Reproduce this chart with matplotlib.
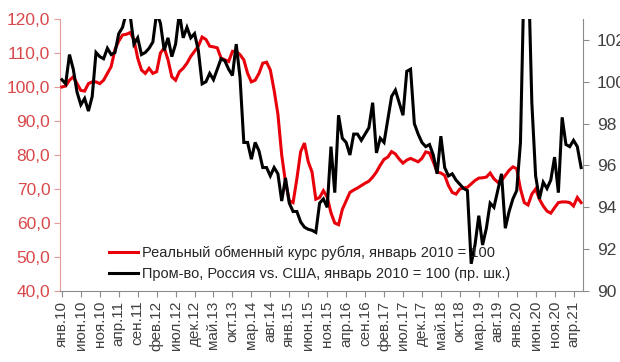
import matplotlib
matplotlib.use("Agg")
import matplotlib.pyplot as plt
import numpy as np

plt.rcParams['font.family'] = ['Liberation Sans', 'DejaVu Sans']

ruble_reer = [
    100, 100.3, 102, 103, 101, 99, 98.8, 101, 101.5, 101.5, 101, 102,
    104, 106, 111, 113.5, 115.3, 115.5, 116, 114, 108.5, 105, 104, 105.5,
    104, 104.5, 110, 111.5, 108, 103, 102, 104.5, 105.5, 107, 109, 110.5,
    112, 114.7, 114, 112, 111.8, 111.5, 108.5, 108, 107.5, 110.5, 110.5, 109.5,
    108, 104, 101.5, 102, 104, 107, 107.3, 105, 99, 92, 80, 72,
    66.5, 66, 73, 81, 83.5, 78, 75, 67, 67.5, 69.5, 67.6, 63,
    60, 59.5, 64, 66.5, 69, 69.7, 70.3, 71, 71.7, 72.3, 73.5, 75,
    77, 78.7, 79.4, 81, 80.3, 78.8, 77.6, 78.5, 79, 78.5, 78, 79,
    80.9, 80.6, 78, 75, 74.7, 74, 71, 69, 68.5, 70, 70.3, 70.5,
    71.5, 72.5, 73.2, 73.3, 73.5, 74.7, 73, 72, 72.5, 74, 75.5, 76.5,
    76, 70, 66, 65.3, 68.5, 70, 67, 65, 63.5, 62.9, 64.5, 66,
    66.2, 66.2, 66, 65, 67.5, 66,
]

industry_ru_us = [
    100.1, 99.9, 101.3, 100.6, 99.5, 98.9, 99.2, 98.6, 99.3, 101.4, 101.2, 101.1,
    101.6, 101.3, 101.4, 102.3, 102.6, 103.3, 103.2, 101.8, 102.1, 101.3, 101.4, 101.6,
    101.9, 103.3, 102.8, 101.5, 102.1, 101.2, 101.8, 103.3, 102.1, 102.6, 102.1, 102.3,
    101.5, 99.9, 100.0, 100.4, 100.1, 100.6, 101.1, 101.0, 100.6, 100.3, 101.8, 100.2,
    97.1, 97.1, 96.3, 97.1, 96.7, 95.9, 95.9, 95.5, 95.9, 95.6, 94.3, 95.4,
    94.2, 93.8, 93.8, 93.3, 93.05, 92.95, 92.9, 92.8, 94.2, 94.4, 94.0, 96.9,
    94.7, 98.4, 97.3, 97.1, 96.5, 97.5, 97.5, 97.2, 97.5, 97.8, 99.0, 96.6,
    97.3, 97.1, 98.2, 99.3, 99.6, 99.0, 98.4, 100.5, 100.6, 98.0, 97.5, 97.1,
    96.9, 97.0, 96.5, 95.6, 97.4, 95.9, 95.5, 95.6, 95.3, 95.1, 94.9, 94.8,
    91.3, 92.2, 93.6, 92.2, 93.0, 94.2, 94.0, 94.8, 95.6, 93.0, 93.8, 94.4,
    94.8, 97.1, 105.5, 106.0, 99.0, 95.5, 94.4, 95.2, 94.9, 95.3, 96.4, 94.7,
    98.3, 97.0, 96.9, 97.2, 96.9, 95.9,
]

month_abbr = ['янв', 'фев', 'мар', 'апр', 'май', 'июн',
              'июл', 'авг', 'сен', 'окт', 'ноя', 'дек']
start_year = 2010
tick_step = 5

label_reer = 'Реальный обменный курс рубля, январь 2010 = 100'
label_ind = 'Пром-во, Россия vs. США, январь 2010 = 100 (пр. шк.)'

left_ticks = [40, 50, 60, 70, 80, 90, 100, 110, 120]
right_ticks = [90, 92, 94, 96, 98, 100, 102]

n = len(ruble_reer)
x = np.arange(n)
labels = [f"{month_abbr[i % 12]}.{(start_year + i // 12) % 100:02d}" for i in range(n)]

fig = plt.figure(figsize=(6.2, 3.62), dpi=100)
ax = fig.add_axes([60/620, 71/362, 523/620, 272/362])
ax2 = ax.twinx()

red_c = '#e8000b'
ln1, = ax.plot(x, ruble_reer, color=red_c, lw=2.2, solid_joinstyle='miter', zorder=3)
ln2, = ax2.plot(x, industry_ru_us, color='black', lw=2.2, solid_joinstyle='miter', zorder=3)

ax.set_xlim(-0.5, n - 0.5)
ax.set_ylim(40, 120)
ax2.set_ylim(90, 103)

ax.set_yticks(left_ticks)
ax.set_yticklabels([f"{v:.1f}".replace('.', ',') for v in left_ticks])
ax2.set_yticks(right_ticks)
ax2.set_yticklabels([str(v) for v in right_ticks])

tick_idx = list(range(0, n, tick_step))
ax.set_xticks(tick_idx)
ax.set_xticklabels([labels[i] for i in tick_idx], rotation=90)

left_col = '#d9484a'
right_col = '#404040'
grey = '#8c8c8c'

for a in (ax, ax2):
    a.spines['top'].set_visible(False)
    a.patch.set_visible(False)
ax2.spines['left'].set_visible(False)
ax2.spines['bottom'].set_visible(False)
ax.spines['right'].set_visible(False)
ax.spines['left'].set_color('#e59a9a')
ax.spines['bottom'].set_color(grey)
ax2.spines['right'].set_color(grey)

ax.tick_params(axis='y', colors='#e59a9a', labelcolor=left_col, labelsize=12.5,
               length=4, direction='out', pad=3)
ax.tick_params(axis='x', colors=grey, labelcolor=right_col, labelsize=11,
               length=4, direction='out', pad=3)
ax2.tick_params(axis='y', colors=grey, labelcolor=right_col, labelsize=12.5,
                length=4, direction='out', pad=6)

leg = fig.legend([ln1, ln2], [label_reer, label_ind], loc='upper left',
                 bbox_to_anchor=(106/620, 1 - 243/362), frameon=False,
                 fontsize=10.5, handlelength=2.0, handletextpad=0.25,
                 labelspacing=0.45, borderaxespad=0, borderpad=0.2)
for t in leg.get_texts():
    t.set_color('#262626')

fig.savefig('out.png', dpi=100)
